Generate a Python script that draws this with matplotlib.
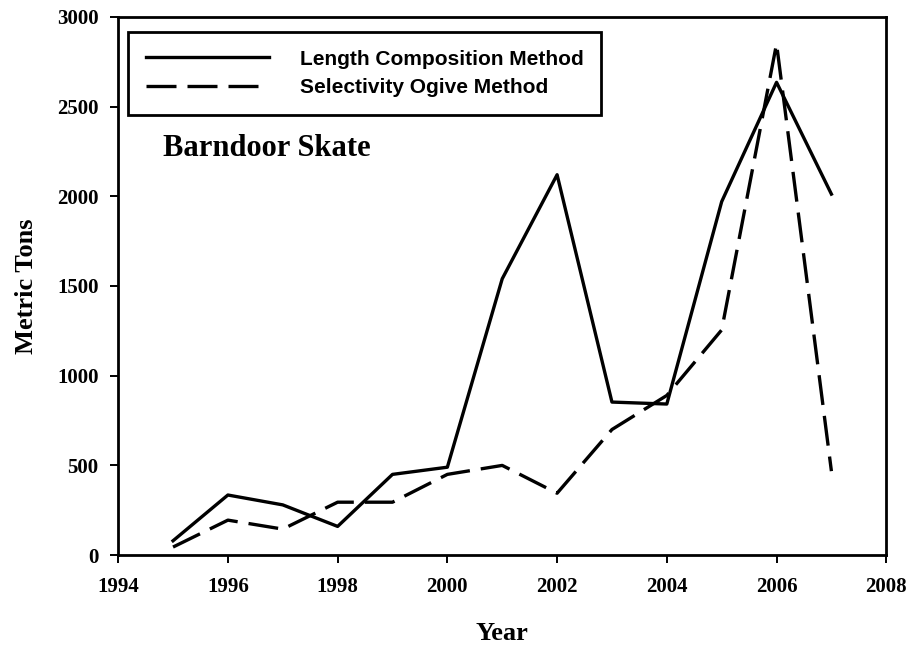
import matplotlib.pyplot as plt

years = [1995, 1996, 1997, 1998, 1999, 2000, 2001, 2002, 2003, 2004, 2005, 2006, 2007]
length_comp = [80, 335, 280, 160, 450, 490, 1540, 2120, 853, 842, 1970, 2635, 2012]
selectivity = [45, 195, 145, 295, 295, 450, 500, 345, 700, 890, 1255, 2850, 468]

serif = ['Liberation Serif', 'DejaVu Serif']
sans = ['Liberation Sans', 'DejaVu Sans']

fig = plt.figure(figsize=(9.09, 6.47), dpi=100)
ax = fig.add_axes([0.130, 0.142, 0.845, 0.832])

ax.plot(years, length_comp, color='black', lw=2.4, label='Length Composition Method')
ax.plot(years, selectivity, color='black', lw=2.4, linestyle=(0, (9, 3.3)),
        label='Selectivity Ogive Method')

ax.set_xlim(1994, 2008)
ax.set_ylim(0, 3000)
ax.set_xticks(range(1994, 2009, 2))
ax.set_yticks(range(0, 3001, 500))
ax.tick_params(direction='out', length=6, width=1.4)
ax.tick_params(axis='x', pad=10)
ax.tick_params(axis='y', pad=8)
for lab in ax.get_xticklabels() + ax.get_yticklabels():
    lab.set_family(serif)
    lab.set_fontweight('bold')
    lab.set_fontsize(15)
for s in ax.spines.values():
    s.set_linewidth(2)

ax.set_xlabel('Year', family=serif, fontweight='bold', fontsize=19, labelpad=18)
ax.set_ylabel('Metric Tons', family=serif, fontweight='bold', fontsize=19, labelpad=14)

ax.text(1994.82, 2225, 'Barndoor Skate', family=serif, fontweight='bold', fontsize=22)

leg = ax.legend(loc='upper left', bbox_to_anchor=(0.013, 0.972), borderaxespad=0,
                fancybox=False, edgecolor='black', framealpha=1,
                prop={'family': sans, 'weight': 'bold', 'size': 15},
                handlelength=5.9, handletextpad=1.5, borderpad=0.85, labelspacing=0.45)
leg.get_frame().set_linewidth(2)

fig.savefig('out.png', dpi=100)
